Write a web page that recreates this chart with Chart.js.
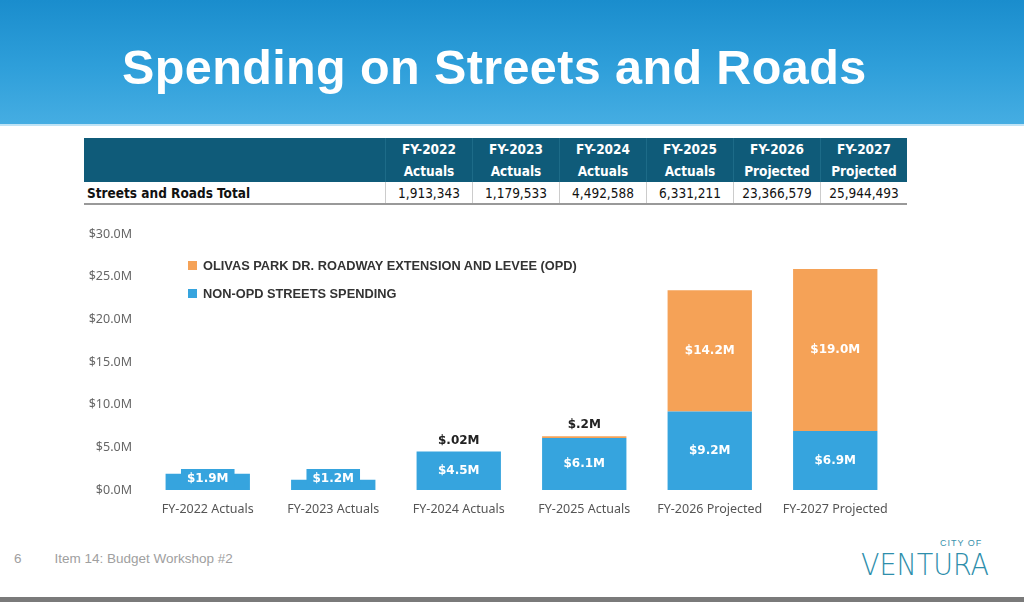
<!DOCTYPE html>
<html>
<head>
<meta charset="utf-8">
<script src="https://cdn.jsdelivr.net/npm/chart.js@4.4.0/dist/chart.umd.min.js"></script>
<style>
  html, body { margin: 0; padding: 0; }
  body { width: 1024px; height: 602px; position: relative; background: #fff; overflow: hidden; font-family: "Liberation Sans", Arial, sans-serif; }
  #header { position: absolute; left: 0; top: 0; width: 1024px; height: 124px;
    background: linear-gradient(to bottom, #1a8dcd 0%, #2f9fda 55%, #45ade2 100%);
    border-bottom: 2px solid #bfe3f5; }
  #header h1 { margin: 0; position: absolute; left: 122px; top: 39px; white-space: nowrap;
    color: #fff; font-size: 48.5px; font-weight: bold; letter-spacing: 0.4px; }
  #tbl { position: absolute; left: 84px; top: 138px; border-collapse: collapse; font-family: "Liberation Sans Narrow", "DejaVu Sans Condensed", sans-serif; }
  #tbl th { background: #0f5b79; color: #fff; font-size: 13.5px; font-weight: bold; height: 22px; padding: 0; text-align: center; }
  #tbl th.lbl { width: 301px; }
  #tbl th.c { width: 86px; border-left: 1px solid #1d6b88; }
  #tbl td { font-size: 13.5px; height: 21px; padding: 0; color: #111; border-bottom: 2px solid #999; }
  #tbl td.lbl { text-align: left; padding-left: 3px; font-weight: bold; }
  #tbl td.n { text-align: center; border-left: 1px solid #ccc; }
  #wrap { position: absolute; left: 60px; top: 212px; width: 850px; height: 309px; }
  .leg { position: absolute; left: 188px; font-family: "Liberation Sans", Arial, sans-serif; font-size: 12.8px; font-weight: bold; color: #333; }
  .leg span { display: inline-block; width: 9px; height: 9px; margin-right: 6px; vertical-align: 0px; }
  #foot { position: absolute; top: 551px; left: 14px; color: #a0a0a0; font-size: 13.5px; }
  #foot b { font-weight: normal; margin-right: 33px; }
  #logo1 { position: absolute; left: 940px; top: 538px; color: #3a92ad; font-size: 9px; letter-spacing: 1px; }
  #logo2 { position: absolute; left: 861px; top: 546px; color: #2e8eab; font-size: 31px; white-space: nowrap;
    font-family: "DejaVu Sans", sans-serif; font-weight: 200; transform: scaleX(0.87); transform-origin: left top; }
  #bottomline { position: absolute; left: 0; top: 597px; width: 1024px; height: 5px; background: #7a7a7a; }
</style>
</head>
<body>
<div id="header"><h1>Spending on Streets and Roads</h1></div>
<table id="tbl"></table>
<div id="wrap"><canvas id="chart"></canvas></div>
<div class="leg" style="top:258px"><span style="background:#f5a257"></span>OLIVAS PARK DR. ROADWAY EXTENSION AND LEVEE (OPD)</div>
<div class="leg" style="top:286px"><span style="background:#36a4de"></span>NON-OPD STREETS SPENDING</div>
<div id="foot"><b>6</b>Item 14: Budget Workshop #2</div>
<div id="logo1">CITY OF</div>
<div id="logo2">VENTURA</div>
<div id="bottomline"></div>
<script>
const years = ['FY-2022', 'FY-2023', 'FY-2024', 'FY-2025', 'FY-2026', 'FY-2027'];
const kinds = ['Actuals', 'Actuals', 'Actuals', 'Actuals', 'Projected', 'Projected'];
const totals = ['1,913,343', '1,179,533', '4,492,588', '6,331,211', '23,366,579', '25,944,493'];
const nonOpd = [1.9, 1.2, 4.5, 6.1, 9.2, 6.9];
const opd = [0, 0, 0.02, 0.2, 14.2, 19.0];
const yTicks = [0, 5, 10, 15, 20, 25, 30];

const blue = '#36a4de';
const orange = '#f5a257';

// table above the chart
const tbl = document.getElementById('tbl');
let h1 = '<tr><th class="lbl"></th>' + years.map(y => '<th class="c">' + y + '</th>').join('') + '</tr>';
let h2 = '<tr><th class="lbl"></th>' + kinds.map(k => '<th class="c">' + k + '</th>').join('') + '</tr>';
let r = '<tr><td class="lbl">Streets and Roads Total</td>' + totals.map(t => '<td class="n">' + t + '</td>').join('') + '</tr>';
tbl.innerHTML = h1 + h2 + r;

function fmt(v) {
  if (v < 1) return '$' + String(v).replace(/^0/, '') + 'M';
  return '$' + v.toFixed(1) + 'M';
}

const barLabels = {
  id: 'barLabels',
  afterDatasetsDraw(chart) {
    const c = chart.ctx;
    c.save();
    c.font = 'bold 12px "DejaVu Sans", sans-serif';
    c.textAlign = 'center';
    c.textBaseline = 'middle';
    chart.data.datasets.forEach((ds, di) => {
      chart.getDatasetMeta(di).data.forEach((bar, i) => {
        const v = ds.data[i];
        if (!v) return;
        const txt = fmt(v);
        const top = Math.min(bar.y, bar.base), bot = Math.max(bar.y, bar.base);
        const hgt = bot - top;
        if (di === 1 && hgt < 24) {
          c.fillStyle = '#222';
          c.fillText(txt, bar.x, top - 11);
        } else if (hgt < 24) {
          const y = Math.min((top + bot) / 2, bot - 12);
          const w = c.measureText(txt).width + 12;
          c.fillStyle = ds.backgroundColor;
          c.fillRect(bar.x - w / 2, y - 9, w, 18);
          c.fillStyle = '#fff';
          c.fillText(txt, bar.x, y + 1);
        } else {
          c.fillStyle = '#fff';
          c.fillText(txt, bar.x, (top + bot) / 2);
        }
      });
    });
    c.restore();
  }
};

new Chart(document.getElementById('chart'), {
  type: 'bar',
  data: {
    labels: years.map((y, i) => y + ' ' + kinds[i]),
    datasets: [
      { label: 'NON-OPD STREETS SPENDING', data: nonOpd, backgroundColor: blue, barPercentage: 0.84, categoryPercentage: 0.8 },
      { label: 'OLIVAS PARK DR. ROADWAY EXTENSION AND LEVEE (OPD)', data: opd, backgroundColor: orange, barPercentage: 0.84, categoryPercentage: 0.8 }
    ]
  },
  options: {
    responsive: true,
    maintainAspectRatio: false,
    animation: false,
    layout: { padding: { top: 22, right: 12, left: 0, bottom: 0 } },
    plugins: { legend: { display: false }, tooltip: { enabled: false } },
    scales: {
      x: {
        stacked: true,
        grid: { display: false },
        border: { display: false },
        ticks: { color: '#555', font: { family: '"Noto Sans", sans-serif', size: 12.5 }, padding: 4 }
      },
      y: {
        stacked: true,
        min: 0, max: 30,
        afterBuildTicks: axis => { axis.ticks = yTicks.map(v => ({ value: v })); },
        afterFit: axis => { axis.width = 85; },
        grid: { display: false, drawTicks: false },
        border: { display: false },
        ticks: { color: '#666', font: { family: '"Noto Sans", sans-serif', size: 12.5 }, padding: 13,
          callback: v => '$' + v.toFixed(1) + 'M' }
      }
    }
  },
  plugins: [barLabels]
});
</script>
</body>
</html>
